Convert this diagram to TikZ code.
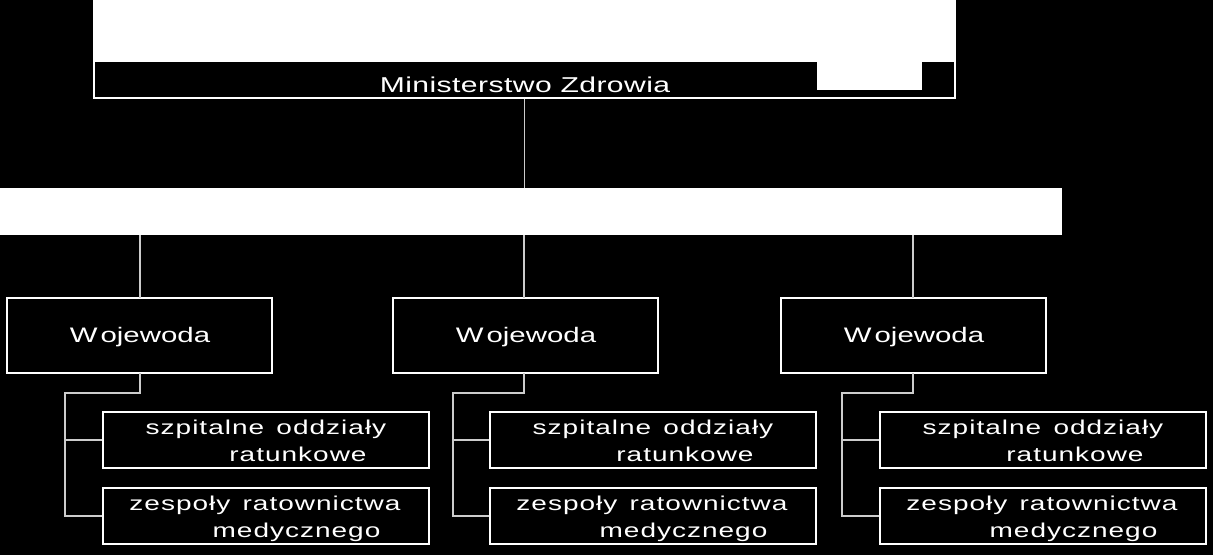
\documentclass[tikz,border=0pt]{standalone}
\usepackage{fontspec}
\setmainfont{Liberation Sans}
\newfontfamily\chfont[FakeStretch=1.4,LetterSpace=5,WordSpace=1.4]{Liberation Sans}
\newfontfamily\wfont[FakeStretch=1.4]{Liberation Sans}
\newfontfamily\mfont[FakeStretch=1.4,LetterSpace=2]{Liberation Sans}
\begin{document}
\begin{tikzpicture}[x=1pt,y=-1pt,
  boxst/.style={draw=white,line width=1.6pt,fill=black,inner sep=0pt},
  conn/.style={draw=white!80!black,line width=1.6pt},
  txt/.style={text=white,inner sep=0pt,anchor=base,font=\chfont\fontsize{20pt}{22pt}\selectfont},
  wtxt/.style={text=white,inner sep=0pt,anchor=base,font=\wfont\fontsize{21pt}{24pt}\selectfont},
  mtxt/.style={text=white,inner sep=0pt,anchor=base,font=\mfont\fontsize{21.5pt}{24pt}\selectfont},
  childst/.style={boxst,minimum width=326pt,minimum height=56pt},
  wojst/.style={boxst,minimum width=265pt,minimum height=75pt}]
\useasboundingbox (0,0) rectangle (1213,555);
\fill[black] (0,0) rectangle (1213,555);
% top box
\node[boxst,minimum width=861pt,minimum height=100pt] (mz) at (524.5,48) {};
\fill[white] (94,0) rectangle (955,62);
\fill[white] (817,62) rectangle (922,90);
\node[mtxt] (mzt) at (525,92.7) {Ministerstwo Zdrowia};
% bar
\node[fill=white,inner sep=0pt,minimum width=1062pt,minimum height=47pt] (bar) at (531,211.5) {};
\draw[conn] (mz.south) -- (mz.south |- bar.north);
% wojewoda boxes
\node[wojst] (w1) at (139.5,335.5) {};
\node[wojst] (w2) at (525.5,335.5) {};
\node[wojst] (w3) at (913.5,335.5) {};
\node[wtxt] (w1t) at (140,342.3) {W\kern3pt ojewoda};
\node[wtxt] (w2t) at (526,342.3) {W\kern3pt ojewoda};
\node[wtxt] (w3t) at (914,342.3) {W\kern3pt ojewoda};
\foreach \w/\xx in {w1/140,w2/524,w3/913}{
  \coordinate (\w top) at (\xx,298);
  \draw[conn] (\w top) -- (\w top |- bar.south);
}
% children
\foreach \i/\cx in {1/266,2/653,3/1043}{
  \node[childst] (c\i a) at (\cx,440) {};
  \node[childst] (c\i b) at (\cx,516) {};
  \node[txt] (c\i a1) at (\cx,434) {szpitalne oddziały};
  \node[txt] (c\i a2) at (\cx+32,461.7) {ratunkowe};
  \node[txt] (c\i b1) at (\cx-1,510) {zespoły ratownictwa};
  \node[txt] (c\i b2) at (\cx+30.5,537.7) {medycznego};
}
\foreach \i/\xx/\sx in {1/140/65,2/524/453,3/913/842}{
  \coordinate (s\i) at (\sx,393);
  \draw[conn] (\xx,373) -- (\xx,393) -- (s\i) -- (s\i |- c\i b.west) -- (c\i b.west);
  \draw[conn] (s\i |- c\i a.west) -- (c\i a.west);
}
\end{tikzpicture}
\end{document}
